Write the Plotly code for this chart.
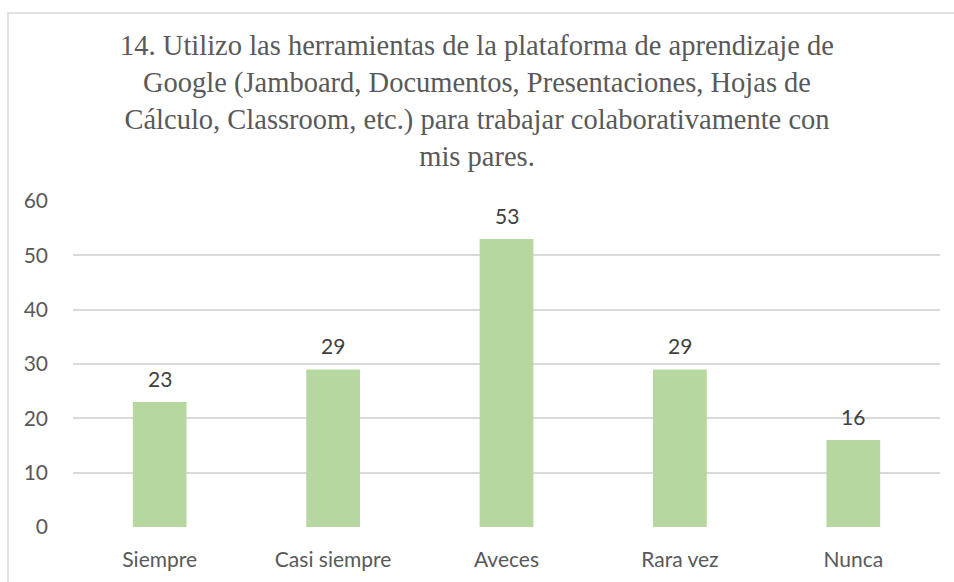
import plotly.graph_objects as go

# Survey answers for question 14
categories = ["Siempre", "Casi siempre", "Aveces", "Rara vez", "Nunca"]
counts = [23, 29, 53, 29, 16]
y_ticks = [0, 10, 20, 30, 40, 50, 60]

TITLE = ("14. Utilizo las herramientas de la plataforma de aprendizaje de<br>"
         "Google (Jamboard, Documentos, Presentaciones, Hojas de<br>"
         "Cálculo, Classroom, etc.) para trabajar colaborativamente con<br>"
         "mis pares.")

BAR = "#B6D7A0"
GRID = "#D9D9D9"
AXIS_TXT = "#595959"
LABEL_TXT = "#404040"
SANS = "Lato, 'Open Sans', sans-serif"

fig = go.Figure(
    go.Bar(
        x=categories,
        y=counts,
        marker=dict(color=BAR, line=dict(width=0)),
        hoverinfo="x+y",
    )
)

# value labels above each bar
for cat, val in zip(categories, counts):
    fig.add_annotation(
        x=cat, y=val, text=str(val), showarrow=False,
        yanchor="bottom", yshift=9,
        font=dict(family=SANS, size=21, color=LABEL_TXT),
    )

W, H = 954, 582
L, R, T, B = 73, 14, 201, 55
pw, ph = W - L - R, H - T - B

# light frame around the whole chart
fig.add_shape(
    type="rect", xref="paper", yref="paper",
    x0=(8 - L) / pw, x1=(W + 5 - L) / pw,
    y0=-(H + 5 - (T + ph)) / ph, y1=(T + ph - 13) / ph,
    line=dict(color=GRID, width=1.5), fillcolor="rgba(0,0,0,0)", layer="below",
)

fig.update_layout(
    width=W, height=H,
    margin=dict(l=L, r=R, t=T, b=B),
    plot_bgcolor="white", paper_bgcolor="white",
    bargap=0.69,
    showlegend=False,
    title=dict(
        text=TITLE, x=0.5, xanchor="center",
        y=1 - 55 / H, yanchor="top", yref="container",
        font=dict(family="'Liberation Serif', 'Times New Roman', serif", size=28.5, color=AXIS_TXT),
    ),
    xaxis=dict(
        showgrid=False, showline=False, zeroline=False, ticks="",
        tickfont=dict(family=SANS, size=21, color=AXIS_TXT),
        ticklabelstandoff=18,
    ),
    yaxis=dict(
        range=[0, 60], tickvals=y_ticks, showline=False, zeroline=False,
        gridcolor=GRID, gridwidth=1.5, ticks="",
        tickfont=dict(family=SANS, size=21, color=AXIS_TXT),
        ticklabelstandoff=24,
    ),
)

# drop the browser's default page margin so the chart sits at the window origin
fig.write_html(
    "out.html",
    config={"displayModeBar": False},
    post_script="document.body.style.margin='0';",
)
